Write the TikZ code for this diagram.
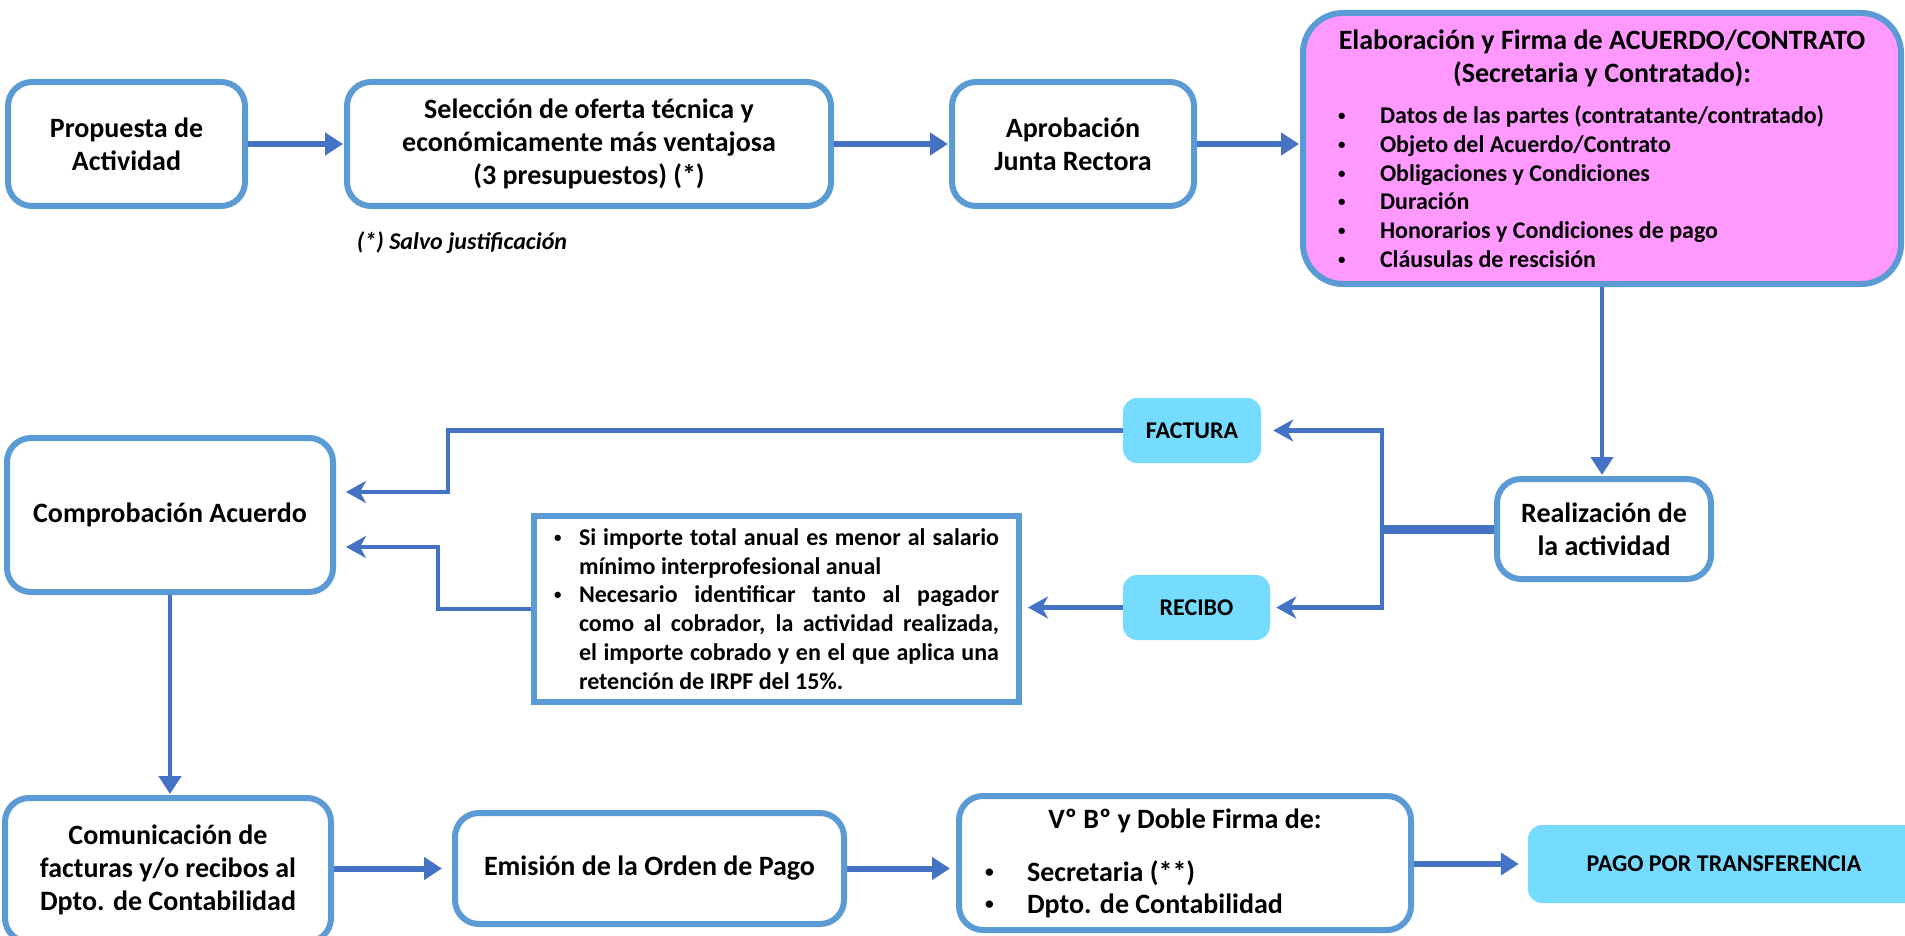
\documentclass[tikz,border=0pt]{standalone}
\usepackage{fontspec}
\setmainfont{Carlito}
\usetikzlibrary{arrows.meta}
\definecolor{boxblue}{HTML}{5B9BD5}
\definecolor{linkblue}{HTML}{4472C4}
\definecolor{tagcyan}{HTML}{75DBFF}
\definecolor{contractpink}{HTML}{FF99FF}
\newcommand{\blt}[1]{\makebox[#1][l]{\raisebox{0.13em}{\scalebox{0.62}{\textbullet}}}}
\begin{document}
\begin{tikzpicture}[x=1pt,y=-1pt,
    stepbox/.style={draw=boxblue,line width=6pt,rounded corners=24pt,fill=white,
      align=center,inner sep=0pt,font=\bfseries\fontsize{28}{33}\selectfont},
    tagbox/.style={fill=tagcyan,rounded corners=14pt,align=center,inner sep=0pt,
      font=\bfseries\fontsize{24}{28}\selectfont},
    link/.style={draw=linkblue,line width=6pt,-{Triangle[length=18pt,width=22pt]}},
    thinlink/.style={draw=linkblue,line width=4.5pt,-{Stealth[length=20pt,width=22pt,inset=6pt]}}]
  \useasboundingbox (0,0) rectangle (1905,936);
  \draw
    (126.5,144) node[stepbox,minimum width=237,minimum height=124] (prop) {Propuesta de\\Actividad}
    (589,144) node[stepbox,minimum width=484,minimum height=124] (sel)
      {Selección de oferta técnica y\\económicamente más ventajosa\\(3 presupuestos) (*)}
    (1073,144) node[stepbox,minimum width=242,minimum height=124] (aprob) {Aprobación\\Junta Rectora}
    (1602,148.5) node[stepbox,fill=contractpink,rounded corners=40pt,minimum width=598,minimum height=271] (elab)
      {\begin{minipage}{560pt}\centering
        Elaboración y Firma de ACUERDO/CONTRATO\\(Secretaria y Contratado):\par
        \vspace{13pt}\raggedright\fontsize{24}{28.7}\selectfont
        \hspace*{16pt}\blt{42pt}Datos de las partes (contratante/contratado)\\
        \hspace*{16pt}\blt{42pt}Objeto del Acuerdo/Contrato\\
        \hspace*{16pt}\blt{42pt}Obligaciones y Condiciones\\
        \hspace*{16pt}\blt{42pt}Duración\\
        \hspace*{16pt}\blt{42pt}Honorarios y Condiciones de pago\\
        \hspace*{16pt}\blt{42pt}Cláusulas de rescisión
      \end{minipage}}
    (462,243) node[font=\bfseries\itshape\fontsize{24}{28}\selectfont] (salvo) {(*) Salvo justificación}
    (170,515) node[stepbox,minimum width=326,minimum height=154] (comp) {Comprobación Acuerdo}
    (1192,430.5) node[tagbox,minimum width=138,minimum height=65] (fact) {FACTURA}
    (1196.5,607.5) node[tagbox,minimum width=147,minimum height=65] (rec) {RECIBO}
    (776.5,609) node[stepbox,rounded corners=0pt,minimum width=485,minimum height=186] (note)
      {\parbox{445pt}{\fontsize{24}{28.8}\selectfont
        \hangindent=25pt\hangafter=1\noindent\blt{25pt}Si importe total anual es menor al salario\linebreak
        mínimo interprofesional anual\par
        \hangindent=25pt\hangafter=1\noindent\blt{25pt}Necesario identificar tanto al pagador\linebreak
        como al cobrador, la actividad realizada,\linebreak
        el importe cobrado y en el que aplica una\linebreak
        retención de IRPF del 15\%.}}
    (1604,529) node[stepbox,minimum width=214,minimum height=100] (real) {Realización de\\la actividad}
    (168,870) node[stepbox,minimum width=326,minimum height=144] (comu)
      {Comunicación de\\facturas y/o recibos al\\Dpto. de Contabilidad}
    (649.5,868.5) node[stepbox,minimum width=389,minimum height=111] (emis) {Emisión de la Orden de Pago}
    (1185,863) node[stepbox,minimum width=452,minimum height=134] (vb)
      {\begin{minipage}{420pt}\centering
        Vº Bº y Doble Firma de:\par
        \vspace{21pt}\raggedright\fontsize{28}{32}\selectfont
        \hspace*{10pt}\blt{42pt}Secretaria (**)\\
        \hspace*{10pt}\blt{42pt}Dpto. de Contabilidad
      \end{minipage}}
    (1724,864) node[tagbox,minimum width=392,minimum height=78] (pago) {PAGO POR TRANSFERENCIA};
  \coordinate (split) at (1382,529);
  \begin{scope}[shorten >=1pt]
    \draw[link] (prop) -- (sel);
    \draw[link] (sel) -- (aprob);
    \draw[link] (aprob.east) -- (aprob.east -| elab.west);
    \draw[link,line width=4.5pt] (elab.south) -- (elab.south |- real.north);
    \draw[draw=linkblue,line width=9pt] (real.west) -- (split);
    \draw[thinlink,shorten >=12pt] (split) |- (fact.east);
    \draw[thinlink,shorten >=6pt] (split) |- (rec.east);
    \draw[thinlink,shorten >=10pt] (fact.west) -- ++(-675,0) |- ([yshift=23pt]comp.east);
    \draw[thinlink,shorten >=6pt] (rec.west) -- (rec.west -| note.east);
    \draw[thinlink,shorten >=10pt] (note.west) -- ++(-93,0) |- ([yshift=-32pt]comp.east);
    \draw[link,line width=4.5pt] (comp.south) -- (comp.south |- comu.north);
    \draw[link,shorten >=10pt] (emis.west -| comu.east) -- (emis.west);
    \draw[link,shorten >=6pt] (emis.east) -- (emis.east -| vb.west);
    \draw[link,shorten >=9pt] (vb.east |- pago.west) -- (pago.west);
  \end{scope}
\end{tikzpicture}
\end{document}
